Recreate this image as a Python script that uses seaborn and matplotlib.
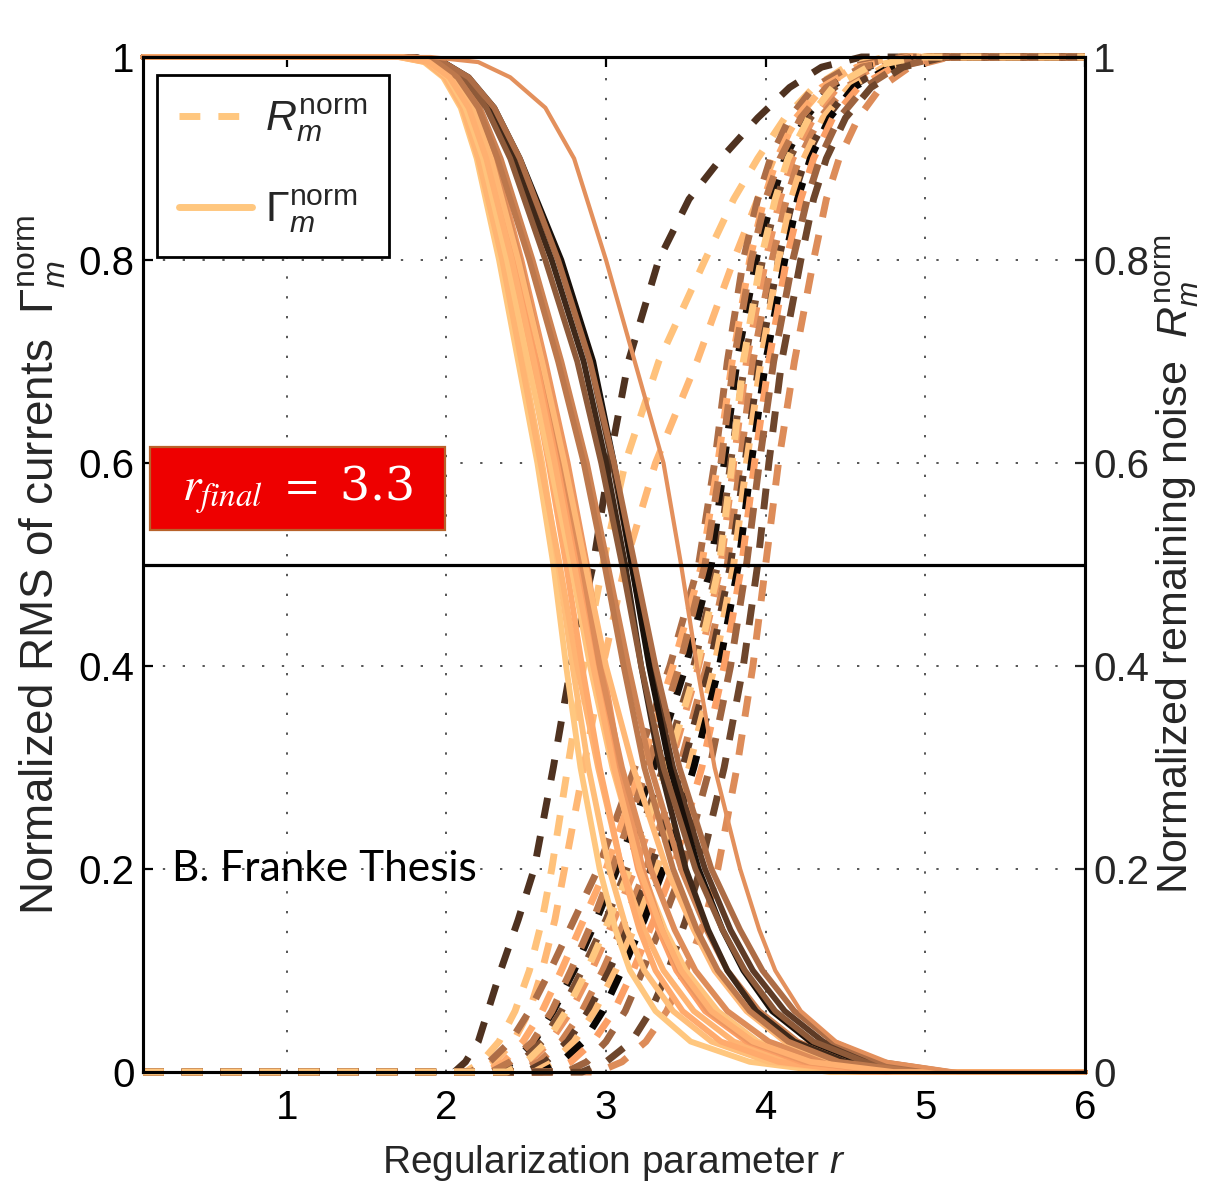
import matplotlib
matplotlib.use("Agg")
import pandas as pd
import matplotlib.pyplot as plt
from matplotlib.lines import Line2D
from matplotlib.patches import Rectangle
import seaborn as sns

# range of the regularization parameter shown
r_min, r_max = 0.1, 6.0

# Gamma_m^norm (solid): r at which each curve passes these levels
gamma_levels = [1.0, 0.995, 0.98, 0.95, 0.9, 0.8, 0.7, 0.6, 0.5, 0.4, 0.3, 0.2, 0.14, 0.1, 0.06, 0.03, 0.01, 0.0]
gamma_r = [
    [1.70, 1.86, 1.98, 2.09, 2.19, 2.33, 2.45, 2.57, 2.67, 2.75, 2.84, 2.96, 3.06, 3.15, 3.31, 3.53, 3.90, 4.40],
    [1.72, 1.88, 2.00, 2.11, 2.21, 2.36, 2.48, 2.60, 2.70, 2.79, 2.89, 3.02, 3.13, 3.24, 3.42, 3.66, 4.02, 4.55],
    [1.70, 1.87, 1.99, 2.10, 2.20, 2.35, 2.47, 2.59, 2.71, 2.82, 2.95, 3.10, 3.24, 3.36, 3.55, 3.80, 4.15, 4.65],
    [1.74, 1.90, 2.02, 2.13, 2.24, 2.39, 2.52, 2.64, 2.75, 2.85, 2.96, 3.10, 3.21, 3.31, 3.48, 3.72, 4.08, 4.60],
    [1.72, 1.89, 2.01, 2.12, 2.23, 2.38, 2.51, 2.65, 2.78, 2.90, 3.04, 3.22, 3.37, 3.50, 3.70, 3.95, 4.30, 4.80],
    [1.74, 1.91, 2.04, 2.16, 2.27, 2.43, 2.57, 2.71, 2.83, 2.94, 3.06, 3.20, 3.33, 3.44, 3.62, 3.88, 4.22, 4.75],
    [1.76, 1.93, 2.06, 2.18, 2.30, 2.47, 2.62, 2.76, 2.88, 2.98, 3.09, 3.23, 3.35, 3.46, 3.64, 3.90, 4.25, 4.80],
    [1.75, 1.92, 2.05, 2.17, 2.29, 2.46, 2.60, 2.73, 2.85, 2.96, 3.10, 3.28, 3.43, 3.56, 3.76, 4.02, 4.38, 4.90],
    [1.75, 1.92, 2.05, 2.17, 2.28, 2.45, 2.60, 2.74, 2.87, 3.00, 3.17, 3.38, 3.55, 3.68, 3.88, 4.12, 4.45, 4.95],
    [1.78, 1.95, 2.08, 2.21, 2.34, 2.54, 2.72, 2.88, 3.01, 3.14, 3.28, 3.47, 3.63, 3.76, 3.96, 4.20, 4.52, 5.00],
    [1.80, 1.98, 2.13, 2.29, 2.45, 2.70, 2.90, 3.04, 3.16, 3.28, 3.42, 3.62, 3.78, 3.92, 4.12, 4.36, 4.66, 5.10],
    [1.80, 1.98, 2.14, 2.30, 2.46, 2.72, 2.92, 3.05, 3.16, 3.27, 3.40, 3.58, 3.73, 3.86, 4.04, 4.28, 4.60, 5.05],
    [1.80, 1.97, 2.12, 2.27, 2.42, 2.66, 2.86, 3.00, 3.12, 3.22, 3.34, 3.50, 3.64, 3.76, 3.94, 4.18, 4.50, 5.00],
    [1.79, 1.96, 2.11, 2.25, 2.40, 2.62, 2.82, 2.97, 3.10, 3.22, 3.36, 3.56, 3.73, 3.87, 4.06, 4.30, 4.62, 5.05],
    [1.80, 1.98, 2.14, 2.30, 2.46, 2.70, 2.90, 3.05, 3.18, 3.31, 3.46, 3.66, 3.84, 3.98, 4.18, 4.42, 4.72, 5.15],
    [1.77, 1.94, 2.07, 2.20, 2.32, 2.52, 2.70, 2.86, 2.99, 3.11, 3.24, 3.42, 3.57, 3.70, 3.90, 4.14, 4.46, 4.95],
    [1.73, 1.89, 2.02, 2.14, 2.25, 2.41, 2.55, 2.68, 2.80, 2.92, 3.05, 3.21, 3.35, 3.47, 3.66, 3.92, 4.28, 4.80],
]
gamma_shade = [1.00, 0.95, 0.90, 0.85, 0.98, 0.80, 0.75, 0.70, 0.92, 0.65, 0.30, 0.08, 0.20, 0.45, 0.55, 0.60, 0.88]

# the late, slower Gamma curve (thinner line)
gamma_late_r = [1.90, 2.20, 2.40, 2.62, 2.80, 3.00, 3.18, 3.36, 3.47, 3.57, 3.68, 3.84, 3.96, 4.06, 4.22, 4.44, 4.76, 5.20]
gamma_late_shade = 0.72

# R_m^norm (dashed): r at which each curve passes these levels
noise_levels = [0.0, 0.01, 0.03, 0.06, 0.1, 0.15, 0.2, 0.3, 0.4, 0.5, 0.6, 0.7, 0.8, 0.86, 0.9, 0.94, 0.97, 0.99, 1.0]
noise_r = [
    [2.05, 2.12, 2.20, 2.26, 2.34, 2.45, 2.55, 2.67, 2.78, 2.92, 3.02, 3.14, 3.33, 3.52, 3.72, 3.95, 4.15, 4.35, 4.60],
    [2.12, 2.22, 2.33, 2.43, 2.52, 2.60, 2.66, 2.76, 2.86, 2.98, 3.12, 3.33, 3.62, 3.80, 3.95, 4.12, 4.30, 4.50, 4.75],
    [2.20, 2.30, 2.42, 2.52, 2.60, 2.68, 2.74, 2.86, 2.98, 3.12, 3.31, 3.57, 3.80, 3.95, 4.05, 4.20, 4.36, 4.55, 4.80],
    [2.15, 2.27, 2.40, 2.52, 2.65, 2.80, 2.95, 3.18, 3.40, 3.58, 3.68, 3.76, 3.86, 3.95, 4.03, 4.15, 4.30, 4.52, 4.85],
    [2.25, 2.36, 2.48, 2.60, 2.72, 2.86, 3.00, 3.22, 3.42, 3.60, 3.70, 3.79, 3.90, 3.99, 4.07, 4.19, 4.35, 4.57, 4.90],
    [2.30, 2.42, 2.55, 2.67, 2.80, 2.94, 3.07, 3.30, 3.50, 3.66, 3.74, 3.82, 3.94, 4.04, 4.12, 4.25, 4.40, 4.62, 4.95],
    [2.35, 2.47, 2.60, 2.72, 2.85, 3.00, 3.13, 3.36, 3.55, 3.70, 3.78, 3.87, 3.98, 4.07, 4.15, 4.28, 4.43, 4.65, 4.95],
    [2.40, 2.52, 2.65, 2.78, 2.91, 3.05, 3.18, 3.40, 3.58, 3.72, 3.80, 3.88, 4.00, 4.09, 4.17, 4.30, 4.45, 4.68, 5.00],
    [2.45, 2.58, 2.72, 2.85, 2.98, 3.12, 3.25, 3.46, 3.63, 3.76, 3.84, 3.92, 4.04, 4.13, 4.21, 4.34, 4.50, 4.72, 5.00],
    [2.50, 2.62, 2.76, 2.89, 3.02, 3.16, 3.28, 3.48, 3.65, 3.78, 3.87, 3.96, 4.08, 4.17, 4.25, 4.38, 4.53, 4.75, 5.05],
    [2.55, 2.67, 2.80, 2.93, 3.06, 3.20, 3.32, 3.52, 3.68, 3.80, 3.88, 3.97, 4.08, 4.16, 4.24, 4.36, 4.52, 4.74, 5.05],
    [2.60, 2.72, 2.86, 2.98, 3.10, 3.24, 3.36, 3.55, 3.71, 3.83, 3.91, 4.00, 4.12, 4.20, 4.28, 4.40, 4.55, 4.78, 5.05],
    [2.65, 2.78, 2.92, 3.05, 3.17, 3.30, 3.42, 3.60, 3.74, 3.85, 3.93, 4.02, 4.13, 4.22, 4.30, 4.42, 4.58, 4.80, 5.10],
    [2.75, 2.88, 3.00, 3.12, 3.23, 3.36, 3.48, 3.65, 3.78, 3.88, 3.96, 4.05, 4.17, 4.26, 4.34, 4.46, 4.62, 4.82, 5.10],
    [2.95, 3.10, 3.25, 3.38, 3.50, 3.62, 3.70, 3.82, 3.92, 4.00, 4.08, 4.18, 4.30, 4.38, 4.46, 4.58, 4.72, 4.90, 5.15],
    [2.85, 3.00, 3.16, 3.28, 3.39, 3.50, 3.59, 3.74, 3.86, 3.95, 4.02, 4.10, 4.22, 4.30, 4.38, 4.50, 4.66, 4.86, 5.12],
    [2.28, 2.40, 2.54, 2.66, 2.78, 2.92, 3.04, 3.26, 3.46, 3.62, 3.72, 3.80, 3.91, 4.00, 4.09, 4.22, 4.38, 4.60, 4.92],
    [2.38, 2.50, 2.63, 2.75, 2.88, 3.02, 3.15, 3.38, 3.57, 3.71, 3.79, 3.86, 3.97, 4.06, 4.14, 4.27, 4.42, 4.64, 4.95],
]
noise_shade = [0.25, 0.97, 0.92, 0.55, 0.85, 0.08, 0.40, 0.75, 0.65, 0.30, 0.95, 0.03, 0.80, 0.50, 0.70, 0.35, 0.60, 1.00]

x_ticks = [1, 2, 3, 4, 5, 6]
y_ticks = [0, 0.2, 0.4, 0.6, 0.8, 1]
y_tick_labels = ["0", "0.2", "0.4", "0.6", "0.8", "1"]
r_final = 3.3
threshold = 0.5


def long_form(r_rows, levels, start, end):
    rows = []
    for i, rs in enumerate(r_rows):
        xs = [r_min] + list(rs) + [r_max]
        ys = [start] + list(levels) + [end]
        for x, y in zip(xs, ys):
            rows.append({"curve": i, "r": x, "value": y})
    return pd.DataFrame(rows)


sns.set_theme(style="white")
plt.rcParams["font.family"] = ["Liberation Sans", "DejaVu Sans"]
plt.rcParams["mathtext.fontset"] = "custom"
plt.rcParams["mathtext.rm"] = "Liberation Sans"
plt.rcParams["mathtext.it"] = "Liberation Sans:italic"
plt.rcParams["mathtext.bf"] = "Liberation Sans:bold"

cmap = plt.get_cmap("copper")

fig = plt.figure(figsize=(12.16, 11.9), dpi=100)
ax = fig.add_axes([143 / 1216, 1 - 1072 / 1190, 942 / 1216, 1015 / 1190])

noise_df = long_form(noise_r, noise_levels, 0.0, 1.0)
gamma_df = long_form(gamma_r, gamma_levels, 1.0, 0.0)
late_df = long_form([gamma_late_r], gamma_levels, 1.0, 0.0)

sns.lineplot(data=noise_df, x="r", y="value", hue="curve",
             palette={i: cmap(s) for i, s in enumerate(noise_shade)},
             estimator=None, legend=False, lw=5, ls=(0, (3.0, 2.6)),
             clip_on=False, ax=ax)
sns.lineplot(data=gamma_df, x="r", y="value", hue="curve",
             palette={i: cmap(s) for i, s in enumerate(gamma_shade)},
             estimator=None, legend=False, lw=4.2, clip_on=False, ax=ax)
sns.lineplot(data=late_df, x="r", y="value", color=cmap(gamma_late_shade),
             estimator=None, legend=False, lw=3, clip_on=False, ax=ax)

ax.axhline(threshold, color="black", lw=2.3, zorder=4)

ax.set_xlim(r_min, r_max)
ax.set_ylim(0, 1)
ax.set_xticks(x_ticks, labels=[str(t) for t in x_ticks])
ax.set_yticks(y_ticks, labels=y_tick_labels)
ax.grid(True, color="#555555", ls=(0, (1.2, 9)), lw=1.4)
ax.tick_params(direction="in", length=7, width=1.6, labelsize=29, top=True,
               colors="black", pad=6)
ax.tick_params(axis="x", pad=12)
for sp in ax.spines.values():
    sp.set_linewidth(2.2)
    sp.set_color("black")

ax.set_xlabel("Regularization parameter $r$", fontsize=28, labelpad=12)
ax.set_ylabel("Normalized RMS of currents  $\\Gamma_m^{\\mathrm{norm}}$",
              fontsize=33, labelpad=8)

ax2 = ax.twinx()
ax2.set_ylim(0, 1)
ax2.set_yticks(y_ticks, labels=y_tick_labels)
ax2.tick_params(direction="in", length=7, width=1.6, labelsize=29, pad=6)
for sp in ax2.spines.values():
    sp.set_linewidth(2.2)
    sp.set_color("black")
ax2.set_ylabel("Normalized remaining noise  $R_m^{\\mathrm{norm}}$",
               fontsize=31, labelpad=3)

legend_color = cmap(1.0)
handles = [Line2D([], [], color=legend_color, lw=5, ls=(0, (3.0, 2.6))),
           Line2D([], [], color=legend_color, lw=5)]
leg = ax2.legend(handles, ["$R_m^{\\mathrm{norm}}$", "$\\Gamma_m^{\\mathrm{norm}}$"],
                 loc="upper left", bbox_to_anchor=(0.015, 0.982), borderaxespad=0,
                 fontsize=31, handlelength=1.7, handletextpad=0.3,
                 labelspacing=1.0, borderpad=0.5, fancybox=False,
                 framealpha=1, edgecolor="black")
leg.get_frame().set_linewidth(2)

# red annotation box
ax2.add_patch(Rectangle((0.144, 0.534), 1.845, 0.082, facecolor="#ee0000",
                        edgecolor="#b8622a", lw=1.6, zorder=5, transform=ax.transData))
ax2.text(1.07, 0.574, f"$r_{{final}}$ $=$ {r_final}", color="white", fontsize=34,
         ha="center", va="center", family="DejaVu Serif", math_fontfamily="stix",
         zorder=6, transform=ax.transData)

ax2.text(0.28, 0.2, "B. Franke Thesis", fontsize=30.5, family="Lato",
         ha="left", va="center", color="black", zorder=6, transform=ax.transData)

fig.savefig("out.png", dpi=100)
